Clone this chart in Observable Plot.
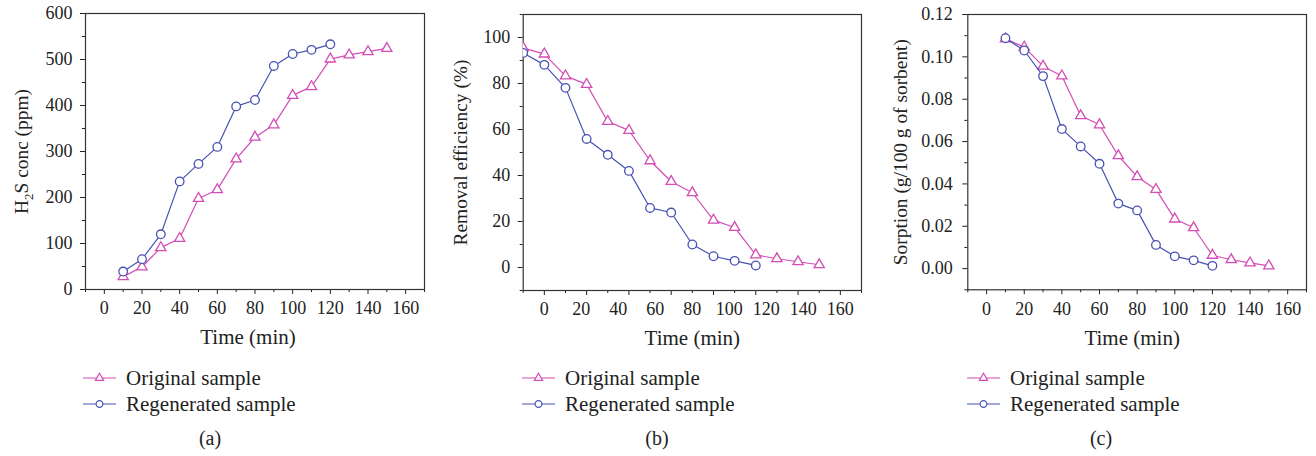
<!DOCTYPE html>
<html><head><meta charset="utf-8">
<script src="https://cdn.jsdelivr.net/npm/d3@7"></script>
<script src="https://cdn.jsdelivr.net/npm/@observablehq/plot@0.6"></script>
<style>
body{margin:0;background:#fff;}
#wrap{position:relative;width:1316px;height:456px;font-family:"Liberation Serif",serif;color:#222;overflow:hidden;}
.panel{position:absolute;top:0;}
.legend{position:absolute;font-size:21px;}
.legend .row{display:flex;align-items:center;height:26px;white-space:nowrap;}
.legend .row span{margin-left:10px;}
.cap{position:absolute;font-size:20px;line-height:22px;transform:translateX(-50%);}
</style></head><body><div id="wrap"></div>
<script>
// ---- data ----
const time = [10,20,30,40,50,60,70,80,90,100,110,120,130,140,150];
const timeRegen = [10,20,30,40,50,60,70,80,90,100,110,120];
const seriesNames = ["Original sample","Regenerated sample"];
const colors = ["#d24db5","#4752b3"];

const h2sOriginal    = [28,49,91,111,198,217,284,331,358,422,441,501,510,517,524];
const h2sRegenerated = [39,66,120,235,273,310,398,412,486,512,521,533];

const effOriginal    = [95.5,92.8,83.3,79.6,63.5,59.6,46.4,37.4,32.5,20.6,17.4,5.5,3.8,2.5,1.2];
const effRegenerated = [93.3,88.1,78.1,55.9,49,42,25.9,23.9,10,4.9,2.9,0.9];

const sorpOriginal    = [0.1085,0.1046,0.0956,0.0910,0.0722,0.0679,0.0533,0.0434,0.0374,0.0234,0.0193,0.0063,0.0042,0.0027,0.0013];
const sorpRegenerated = [0.1088,0.1030,0.0909,0.0659,0.0577,0.0495,0.0307,0.0275,0.0112,0.0058,0.0039,0.0013];

const xTickLabels = [0,20,40,60,80,100,120,140,160];
const xMinorTicks = [-10,10,30,50,70,90,110,130,150,170];
const bMajorTicks = [20,40,60,80,100,120,140,160];
const bMinorTicks = [10,30,50,70,90,110,130,150,170];
const aYMajor = [0,100,200,300,400,500,600];
const aYMinor = [50,150,250,350,450,550];
const bYMajor = [0,20,40,60,80,100];
const bYMinor = [-10,10,30,50,70,90,110];
const cYMajor = [0,0.02,0.04,0.06,0.08,0.10,0.12];
const cYMinor = [-0.01,0.01,0.03,0.05,0.07,0.09,0.11];
const xTitle = "Time (min)";
const captions = ["(a)","(b)","(c)"];

// ---- drawing ----
const wrap = document.getElementById("wrap");
const ink = "#222";

function makePanel(cfg) {
  const orig = time.map((t,i)=>({t, v: cfg.orig[i]}));
  const regen = timeRegen.map((t,i)=>({t, v: cfg.regen[i]}));
  const clip = !!cfg.clip;
  const marks = [
    Plot.axisY(cfg.yMinor, {tickSize:3, tickFormat:()=>"", label:null}),
    Plot.axisY(cfg.yMajor, {tickSize:5, tickPadding:cfg.yPad, tickFormat:cfg.yFormat, label:null}),
    Plot.axisX(cfg.xMinor, {tickSize:3, tickFormat:()=>"", label:null}),
    Plot.axisX(cfg.xMajor, {tickSize:5, tickPadding:7, tickFormat: cfg.xLabels ? ()=>"" : (d=>String(d)), label:null})
  ];
  if (cfg.xLabels) {
    marks.push(Plot.axisX(cfg.xLabels.positions, {tickSize:0, tickPadding:12, tickFormat: d=>cfg.xLabels.map.get(d), label:null}));
  }
  marks.push(
    Plot.frame({stroke:"#333", strokeWidth:1.2}),
    Plot.line(orig, {x:"t", y:"v", stroke:colors[0], strokeWidth:1.2, clip}),
    Plot.dot(orig, {x:"t", y:"v", symbol:"triangle", r:3.8, stroke:colors[0], fill:"white", strokeWidth:1.3, clip}),
    Plot.line(regen, {x:"t", y:"v", stroke:colors[1], strokeWidth:1.2, clip}),
    Plot.dot(regen, {x:"t", y:"v", symbol:"circle", r:4.3, stroke:colors[1], fill:"white", strokeWidth:1.3, clip}),
    Plot.text([xTitle], {frameAnchor:"bottom", dy:48, dx:cfg.xTitleDx, fontSize:21, fill:ink, textAnchor:"middle", lineAnchor:"middle"}),
    Plot.text([cfg.yTitle], {frameAnchor:"left", dx:cfg.yTitleDx, rotate:-90, fontSize:19.4, fill:ink, textAnchor:"middle", lineAnchor:"middle"})
  );
  const svg = Plot.plot({
    width: cfg.width, height: 352,
    marginLeft: cfg.ml, marginRight: cfg.mr, marginTop: cfg.mt, marginBottom: 352 - cfg.bottom,
    x: {domain: cfg.xDomain, label: null},
    y: {domain: cfg.yDomain, label: null},
    style: {fontFamily: '"Liberation Serif", serif', fontSize: "18px", color: ink, background: "transparent", overflow: "visible"},
    marks
  });
  const holder = document.createElement("div");
  holder.className = "panel";
  holder.style.left = cfg.left + "px";
  holder.appendChild(svg);
  wrap.appendChild(holder);
  return svg;
}

function legend(left) {
  const div = document.createElement("div");
  div.className = "legend";
  div.style.left = left + "px";
  div.style.top = "365px";
  seriesNames.forEach((name, i) => {
    const row = document.createElement("div");
    row.className = "row";
    const s = d3.create("svg").attr("width", 33).attr("height", 14);
    s.append("line").attr("x1", 0).attr("x2", 33).attr("y1", 7).attr("y2", 7).attr("stroke", colors[i]).attr("stroke-width", 1.2);
    const sym = i === 0 ? d3.symbolTriangle : d3.symbolCircle;
    const size = i === 0 ? 30 : 36;
    s.append("path").attr("d", d3.symbol(sym, size)()).attr("transform", "translate(16.5,7)")
      .attr("fill", "white").attr("stroke", colors[i]).attr("stroke-width", 1.2);
    row.appendChild(s.node());
    const span = document.createElement("span");
    span.textContent = name;
    row.appendChild(span);
    div.appendChild(row);
  });
  wrap.appendChild(div);
}

function caption(text, cx) {
  const d = document.createElement("div");
  d.className = "cap";
  d.style.left = cx + "px";
  d.style.top = "427px";
  d.textContent = text;
  wrap.appendChild(d);
}

// Panel (a)
const svgA = makePanel({
  left: 0, width: 440, ml: 85, mr: 16, mt: 13, bottom: 289,
  xDomain: [-10, 170], yDomain: [0, 600],
  orig: h2sOriginal, regen: h2sRegenerated,
  yMajor: aYMajor, yMinor: aYMinor, yPad: 8, yFormat: d => String(d),
  xMajor: xTickLabels, xMinor: xMinorTicks,
  yTitle: "H2S conc (ppm)", yTitleDx: -64, xTitleDx: -7
});
// subscript for H2S
d3.select(svgA).selectAll("text").each(function() {
  if (this.textContent === "H2S conc (ppm)") {
    const t = d3.select(this);
    t.text(null);
    t.append("tspan").text("H");
    t.append("tspan").attr("dy", 5).attr("font-size", 13).text("2");
    t.append("tspan").attr("dy", -5).text("S conc (ppm)");
  }
});

// Panel (b): tick labels are spread evenly between the 20 and 160 ticks
const bLabelPos = xTickLabels.map(L => 20 + L * 140 / 160);
const bLabelMap = new Map(bLabelPos.map((p, i) => [p, String(xTickLabels[i])]));
makePanel({
  left: 440, width: 440, ml: 82.7, mr: 19, mt: 14, bottom: 290,
  xDomain: [10, 170], yDomain: [-10, 110],
  orig: effOriginal, regen: effRegenerated,
  yMajor: bYMajor, yMinor: bYMinor, yPad: 8, yFormat: d => String(d),
  xMajor: bMajorTicks, xMinor: bMinorTicks,
  xLabels: {positions: bLabelPos, map: bLabelMap},
  yTitle: "Removal efficiency (%)", yTitleDx: -62, xTitleDx: 0, clip: true
});

// Panel (c)
makePanel({
  left: 880, width: 436, ml: 87.3, mr: 10, mt: 14, bottom: 289.3,
  xDomain: [-10, 170], yDomain: [-0.01, 0.12],
  orig: sorpOriginal, regen: sorpRegenerated,
  yMajor: cYMajor, yMinor: cYMinor, yPad: 10, yFormat: d3.format(".2f"),
  xMajor: xTickLabels, xMinor: xMinorTicks,
  yTitle: "Sorption (g/100 g of sorbent)", yTitleDx: -67, xTitleDx: -5
});

legend(83); legend(522); legend(967);
caption(captions[0], 210); caption(captions[1], 657); caption(captions[2], 1101);
</script></body></html>
